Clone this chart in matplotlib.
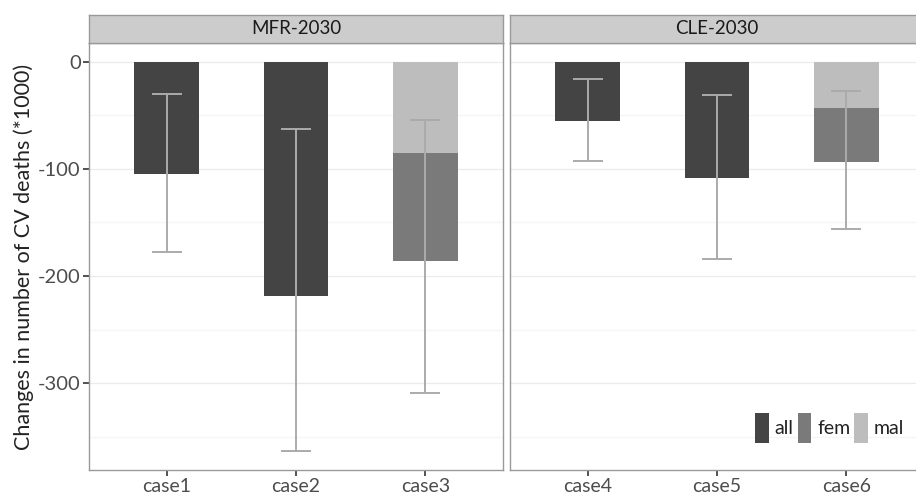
import numpy as np
import matplotlib
matplotlib.use("Agg")
import matplotlib.pyplot as plt
from matplotlib.patches import Patch

plt.rcParams['font.family'] = ['Lato', 'DejaVu Sans']

panels = ['MFR-2030', 'CLE-2030']
cases = [['case1', 'case2', 'case3'], ['case4', 'case5', 'case6']]
all_vals = [[-105, -219, np.nan], [-55, -109, np.nan]]
fem_vals = [[np.nan, np.nan, -101], [np.nan, np.nan, -50]]
mal_vals = [[np.nan, np.nan, -85], [np.nan, np.nan, -43.5]]
err_low = [[-178, -363, -309], [-93, -184, -156]]
err_high = [[-30, -63, -54], [-16, -31, -27]]
ylabel = 'Changes in number of CV deaths (*1000)'

colors = {'all': '#444444', 'fem': '#7a7a7a', 'mal': '#bdbdbd'}
err_color = '#ababab'

W, H = 916, 499
fig = plt.figure(figsize=(W / 100, H / 100), dpi=100)

def fx(px):
    return px / W

def fy(py):
    return 1 - py / H

panel_left = [89, 510]
pw = 414
ptop, pbot = 43, 470
stop = 15

axes = []
for i in range(2):
    ax = fig.add_axes([fx(panel_left[i]), fy(pbot), pw / W, (pbot - ptop) / H])
    axes.append(ax)
    x = np.arange(len(cases[i]))
    a = np.array(all_vals[i], dtype=float)
    f = np.array(fem_vals[i], dtype=float)
    m = np.array(mal_vals[i], dtype=float)
    ax.bar(x, np.nan_to_num(a), width=0.5, color=colors['all'], zorder=2)
    ax.bar(x, np.nan_to_num(m), width=0.5, color=colors['mal'], zorder=2)
    ax.bar(x, np.nan_to_num(f), width=0.5, bottom=np.nan_to_num(m), color=colors['fem'], zorder=2)
    lo = np.array(err_low[i]); hi = np.array(err_high[i])
    mid = (lo + hi) / 2
    ax.errorbar(x, mid, yerr=[mid - lo, hi - mid], fmt='none', ecolor=err_color,
                elinewidth=1.4, capsize=11, capthick=1.4, zorder=3)
    ax.set_xlim(-0.6, len(cases[i]) - 0.4)
    ax.set_ylim(-381, 17.4)
    ax.set_xticks(x)
    ax.set_xticklabels(cases[i], fontsize=14, color='#4d4d4d')
    ax.set_yticks([0, -100, -200, -300])
    ax.set_yticks([-50, -150, -250, -350], minor=True)
    ax.grid(True, axis='y', which='major', color='#ebebeb', lw=0.9, zorder=0)
    ax.grid(True, axis='y', which='minor', color='#f5f5f5', lw=0.9, zorder=0)
    ax.set_axisbelow(True)
    ax.tick_params(axis='both', which='major', length=4, width=1.2, color='#333333', pad=2)
    ax.tick_params(axis='both', which='minor', length=0)
    for s in ax.spines.values():
        s.set_color('#9a9a9a')
        s.set_linewidth(1.0)
    if i == 0:
        ax.set_yticklabels(['0', '-100', '-200', '-300'], fontsize=14.5, color='#4d4d4d')
        ax.set_ylabel(ylabel, fontsize=15.5, color='#222222', labelpad=3)
    else:
        ax.tick_params(axis='y', which='both', left=False, labelleft=False)
    # strip
    sax = fig.add_axes([fx(panel_left[i]), fy(ptop), pw / W, (ptop - stop) / H])
    sax.set_facecolor('#cccccc')
    sax.set_xticks([]); sax.set_yticks([])
    for s in sax.spines.values():
        s.set_color('#9a9a9a')
        s.set_linewidth(1.0)
    sax.text(0.5, 0.5, panels[i], transform=sax.transAxes, ha='center', va='center',
             fontsize=13.5, color='#1a1a1a')

handles = [Patch(facecolor=colors[k], edgecolor='none', label=k) for k in ['all', 'fem', 'mal']]
leg = axes[1].legend(handles=handles, ncol=3, loc='lower right', frameon=False,
                     fontsize=14, handlelength=0.7, handleheight=2.0,
                     handletextpad=0.3, columnspacing=0.2,
                     bbox_to_anchor=(fx(904), fy(443)), bbox_transform=fig.transFigure,
                     borderpad=0, borderaxespad=0)
for t in leg.get_texts():
    t.set_color('#222222')

fig.savefig('out.png', dpi=100, facecolor='white')
